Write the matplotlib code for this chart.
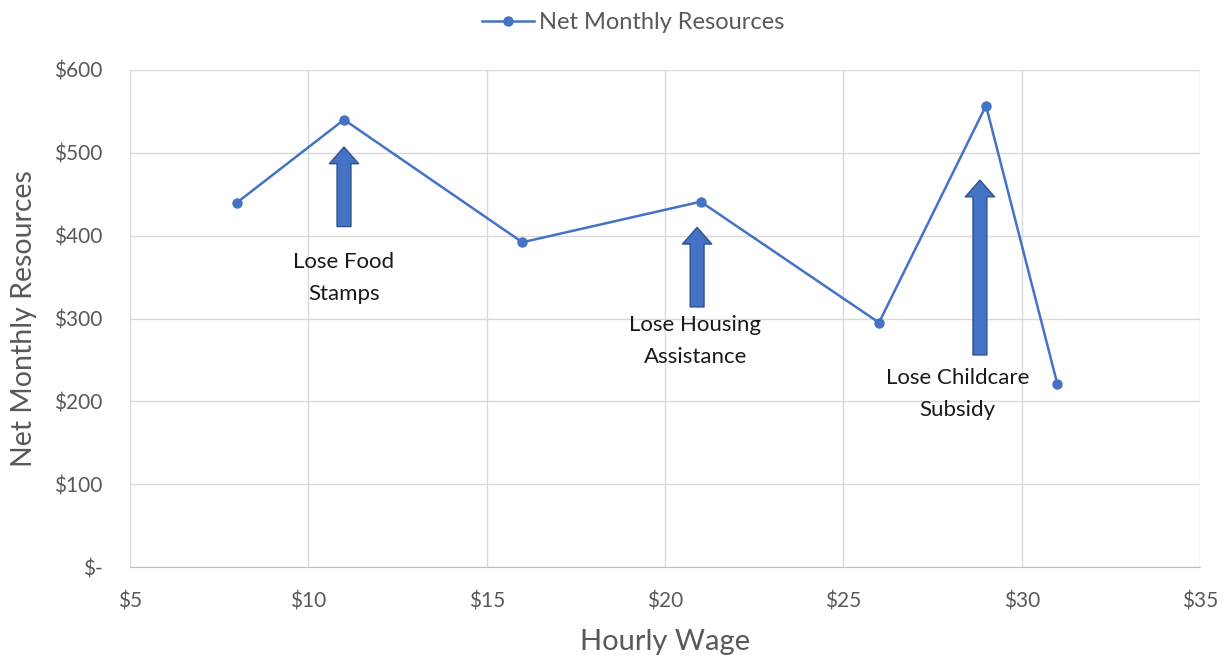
import matplotlib.pyplot as plt
from matplotlib.patches import FancyArrowPatch
from matplotlib.ticker import FuncFormatter

plt.rcParams['font.family'] = ['Lato', 'DejaVu Sans']

# data
wage = [8, 11, 16, 21, 26, 29, 31]
resources = [440, 540, 392, 441, 295, 557, 221]

# annotation arrows: (x, base, tip) and their labels
arrow_x = [11.0, 20.9, 28.83]
arrow_base = [411, 314, 256]
arrow_tip = [507, 410, 467]
label_x = [11.0, 20.85, 28.2]
label_y = [349, 273, 209]
labels = ["Lose Food\nStamps", "Lose Housing\nAssistance", "Lose Childcare\nSubsidy"]

blue = "#4472C4"
gray = "#595959"

fig = plt.figure(figsize=(12.28, 6.58), dpi=100)
ax = fig.add_axes([130 / 1228, 1 - 567 / 658, 1070 / 1228, 497 / 658])

ax.plot(wage, resources, color=blue, lw=1.8, marker="o", markersize=6.5,
        label="Net Monthly Resources", zorder=3)

for x, b, t in zip(arrow_x, arrow_base, arrow_tip):
    arr = FancyArrowPatch((x, b), (x, t),
                          arrowstyle="simple,head_length=0.6,head_width=1.05,tail_width=0.5",
                          mutation_scale=20, facecolor=blue, edgecolor="#2F528F",
                          lw=1.0, shrinkA=0, shrinkB=0, zorder=4)
    ax.add_patch(arr)

for x, y, s in zip(label_x, label_y, labels):
    ax.text(x, y, s, ha="center", va="center", fontsize=16, color="#1a1a1a",
            linespacing=1.75, zorder=5)

ax.set_xlim(5, 35)
ax.set_ylim(0, 600)
ax.set_xticks(range(5, 36, 5))
ax.set_yticks(range(0, 601, 100))
ax.xaxis.set_major_formatter(FuncFormatter(lambda v, p: f"${v:.0f}"))
ax.yaxis.set_major_formatter(FuncFormatter(lambda v, p: "$-" if v == 0 else f"${v:.0f}"))
ax.tick_params(axis="both", length=0, labelsize=15, labelcolor=gray)
ax.tick_params(axis="x", pad=18)
ax.tick_params(axis="y", pad=20)

ax.grid(True, color="#d9d9d9", lw=1.0)
ax.set_axisbelow(True)
for side in ["top", "right", "left"]:
    ax.spines[side].set_visible(False)
ax.spines["bottom"].set_color("#bfbfbf")

ax.set_xlabel("Hourly Wage", fontsize=21, color=gray, labelpad=12)
ax.set_ylabel("Net Monthly Resources", fontsize=20.5, color=gray, labelpad=12)

ax.legend(loc="lower center", bbox_to_anchor=(0.47, 1.055), frameon=False,
          fontsize=17, labelcolor=gray, handlelength=2.2, handletextpad=0.2,
          borderaxespad=0)

fig.savefig("out.png", dpi=100, facecolor="white")
